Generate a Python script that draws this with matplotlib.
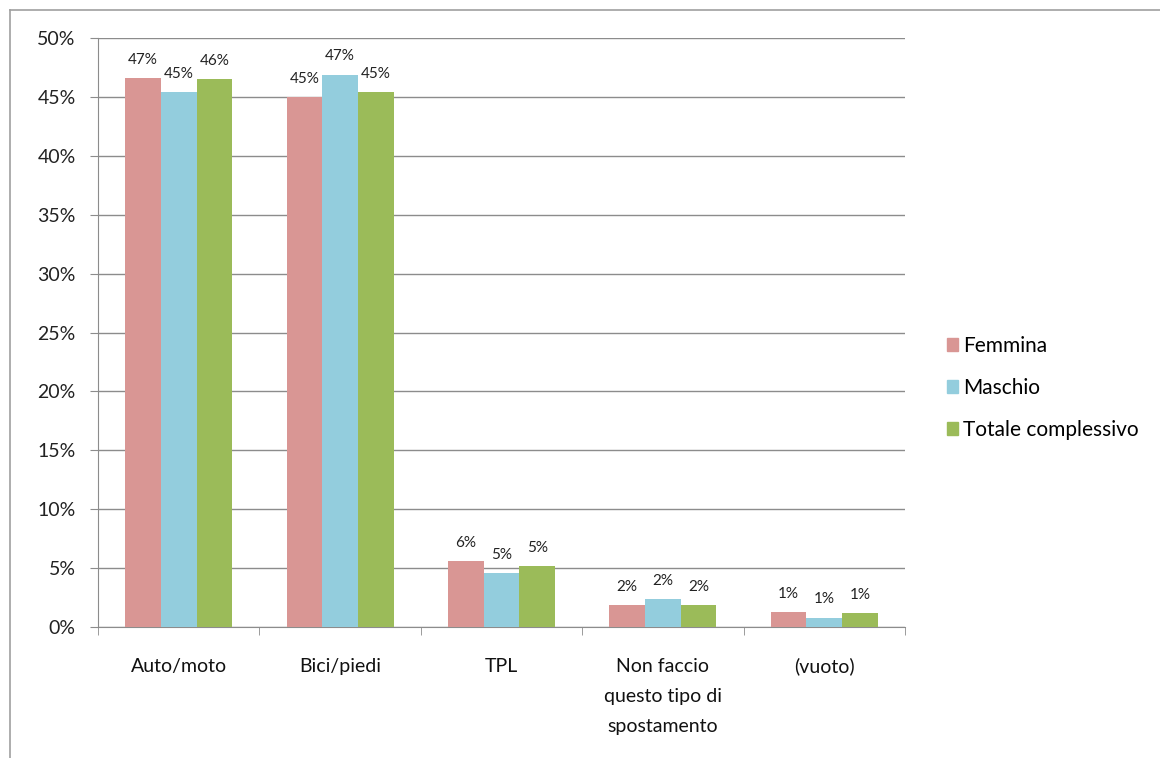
import matplotlib
matplotlib.use("Agg")
import matplotlib.pyplot as plt
from matplotlib.lines import Line2D
import numpy as np

categories = ["Auto/moto", "Bici/piedi", "TPL", "Non faccio\nquesto tipo di\nspostamento", "(vuoto)"]
series_names = ["Femmina", "Maschio", "Totale complessivo"]
femmina = [46.6, 45.0, 5.6, 1.9, 1.3]
maschio = [45.4, 46.9, 4.6, 2.4, 0.8]
totale = [46.5, 45.4, 5.2, 1.9, 1.2]
colors = ["#D99694", "#93CDDD", "#9BBB59"]
yticks = [0, 5, 10, 15, 20, 25, 30, 35, 40, 45, 50]

plt.rcParams['font.family'] = ['Lato', 'DejaVu Sans']

W, H = 1160, 758
fig = plt.figure(figsize=(W / 100, H / 100), dpi=100)
ax = fig.add_axes([98 / W, 1 - 627 / H, (905 - 98) / W, (627 - 38) / H])

x = np.arange(len(categories))
bw = 0.221
grid_color = "#8c8c8c"
for i, (vals, name, c) in enumerate(zip([femmina, maschio, totale], series_names, colors)):
    pos = x + (i - 1) * bw
    ax.bar(pos, vals, width=bw, color=c, label=name, zorder=3)
    for p, v in zip(pos, vals):
        ax.annotate(f"{v:.0f}%", (p, v), xytext=(0, 8), textcoords="offset points",
                    ha="center", va="bottom", fontsize=11, color="#222222")

ax.set_xlim(-0.5, len(categories) - 0.5)
ax.set_ylim(0, 50)
ax.set_yticks(yticks)
ax.set_yticklabels([f"{t}%" for t in yticks], fontsize=14, color="#222222")
ax.yaxis.grid(True, color=grid_color, linewidth=1, zorder=0)
ax.set_axisbelow(True)

ax.set_xticks(x)
ax.set_xticklabels(categories, fontsize=14, color="#111111", linespacing=1.95, va="top")
ax.tick_params(axis="x", length=0, pad=22)
ax.set_xticks(np.arange(len(categories) + 1) - 0.5, minor=True)
ax.tick_params(axis="x", which="minor", length=6, color=grid_color, direction="out")
ax.tick_params(axis="y", length=6, color=grid_color, direction="out", pad=10)

for s in ["top", "right"]:
    ax.spines[s].set_visible(False)
for s in ["left", "bottom"]:
    ax.spines[s].set_color(grid_color)

handles = [plt.Rectangle((0, 0), 1, 1, color=c) for c in colors]
fig.legend(handles, series_names, loc="center left", bbox_to_anchor=(928 / W, 1 - 388 / H),
           frameon=False, fontsize=15, handlelength=0.55, handleheight=0.55,
           handletextpad=0.25, labelspacing=1.05)

# chart area frame
fig.add_artist(Line2D([10 / W, 10 / W], [0, 1 - 10 / H], color="#a0a0a0", lw=1.2))
fig.add_artist(Line2D([10 / W, 1], [1 - 10 / H, 1 - 10 / H], color="#a0a0a0", lw=1.2))

fig.savefig("out.png", dpi=100)
